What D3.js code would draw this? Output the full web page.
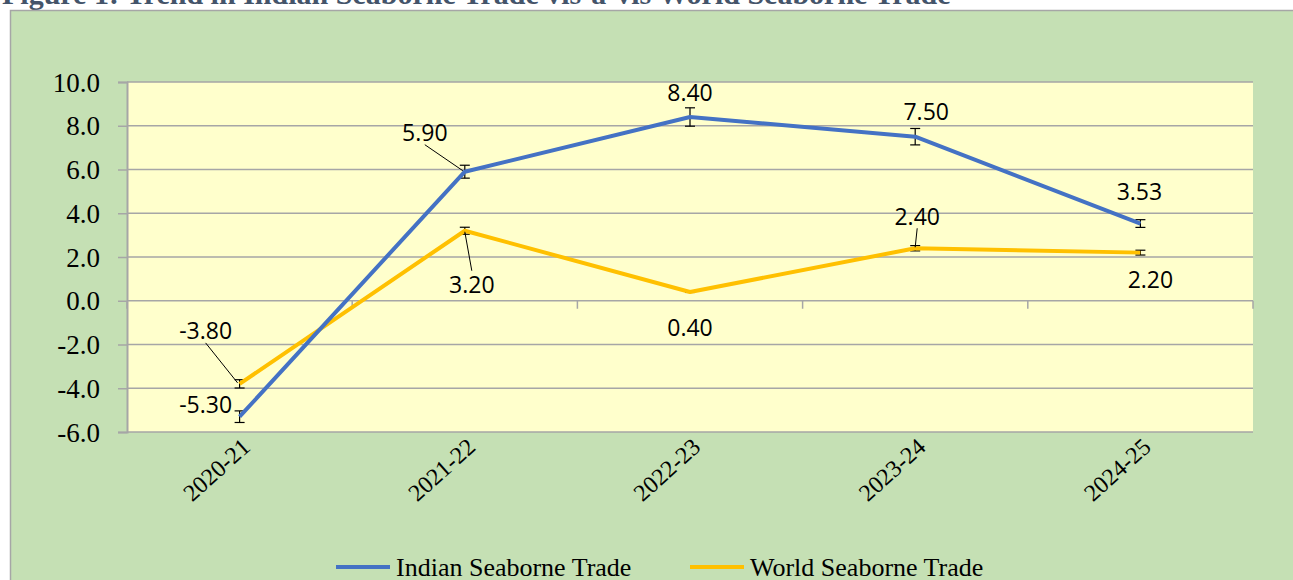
<!DOCTYPE html>
<html>
<head>
<meta charset="utf-8">
<script src="https://cdn.jsdelivr.net/npm/d3@7"></script>
<style>
  html, body { margin: 0; padding: 0; background: #ffffff; overflow: hidden; }
  #chart { width: 1293px; height: 580px; }
</style>
</head>
<body>
<div id="chart"></div>
<script>
const years = ["2020-21", "2021-22", "2022-23", "2023-24", "2024-25"];
const indianTrade = [-5.30, 5.90, 8.40, 7.50, 3.53];
const worldTrade = [-3.80, 3.20, 0.40, 2.40, 2.20];
const yTicks = [-6, -4, -2, 0, 2, 4, 6, 8, 10];
const seriesNames = ["Indian Seaborne Trade", "World Seaborne Trade"];
const seriesColors = ["#4472C4", "#FFC000"];

// label offsets (px) from each point, and which ones get a leader line
const indianLabelOffsets = [[-34, -12], [-40, -39], [0, -24], [11, -25], [-1, -32]];
const worldLabelOffsets = [[-34, -53], [7, 54], [0, 36], [2, -32], [10, 27]];
const indianLeaders = [false, true, false, false, false];
const worldLeaders = [true, true, false, true, false];

const SERIF = "'Liberation Serif', 'Times New Roman', serif";
const SANS = "'Open Sans', 'Noto Sans', sans-serif";

function renderTradeChart(selector) {
    d3.select(selector).html("");

    const W = 1293, H = 580;
    const margin = {top: 82, right: 40, bottom: 148, left: 127};
    const width = W - margin.left - margin.right;
    const height = H - margin.top - margin.bottom;

    const root = d3.select(selector).append("svg")
        .attr("width", W)
        .attr("height", H);

    // title (cut off at top of the page)
    root.append("text")
        .attr("x", 2)
        .attr("y", 4)
        .attr("font-family", SERIF)
        .attr("font-size", 30)
        .attr("font-weight", "bold")
        .attr("fill", "#44546A")
        .text("Figure 1: Trend in Indian Seaborne Trade vis-a-vis World Seaborne Trade");

    // green chart area
    root.append("rect")
        .attr("x", 10.5)
        .attr("y", 10.5)
        .attr("width", W)
        .attr("height", H)
        .attr("fill", "#C5E0B4")
        .attr("stroke", "#A6A6A6")
        .attr("stroke-width", 1.5);

    const svg = root.append("g")
        .attr("transform", `translate(${margin.left}, ${margin.top})`);

    const x = d3.scaleBand()
        .domain(years)
        .range([0, width])
        .padding(0);

    const y = d3.scaleLinear()
        .domain([-6, 10])
        .range([height, 0]);

    const cx = d => x(d) + x.bandwidth() / 2;

    // plot area
    svg.append("rect")
        .attr("x", 0)
        .attr("y", 0)
        .attr("width", width)
        .attr("height", height)
        .attr("fill", "#FFFFCC");

    // y axis
    const yAxis = svg.append("g")
        .call(d3.axisLeft(y).tickValues(yTicks).tickSize(9).tickPadding(18).tickFormat(d => d.toFixed(1)));
    yAxis.attr("font-family", SERIF).attr("font-size", 27);
    yAxis.select(".domain").attr("stroke", "#A6A6A6").attr("stroke-width", 2);
    yAxis.selectAll(".tick line").attr("stroke", "#A6A6A6").attr("stroke-width", 1.5);
    yAxis.selectAll(".tick text").attr("fill", "#000").attr("dy", "0.34em");

    // gridlines
    svg.append("g")
        .selectAll("line")
        .data(yTicks)
        .enter()
        .append("line")
        .attr("x1", 0)
        .attr("x2", width)
        .attr("y1", d => y(d))
        .attr("y2", d => y(d))
        .attr("stroke", "#A6A6A6")
        .attr("stroke-width", 1.5);

    // category axis at zero, ticks on band boundaries
    const bounds = years.map(d => x(d)).concat([width]);
    svg.append("g")
        .selectAll("line")
        .data(bounds)
        .enter()
        .append("line")
        .attr("x1", d => d)
        .attr("x2", d => d)
        .attr("y1", y(0))
        .attr("y2", y(0) + 8)
        .attr("stroke", "#A6A6A6")
        .attr("stroke-width", 1.5);

    // rotated category labels below plot
    svg.append("g")
        .selectAll("text")
        .data(years)
        .enter()
        .append("text")
        .attr("font-family", SERIF)
        .attr("font-size", 24)
        .attr("fill", "#000")
        .attr("text-anchor", "end")
        .attr("transform", d => `translate(${cx(d) + 12}, ${height + 17}) rotate(-42)`)
        .text(d => d);

    const line = d3.line()
        .x(d => cx(d.year))
        .y(d => y(d.value));

    const series = [
        {name: seriesNames[0], color: seriesColors[0], values: indianTrade, offsets: indianLabelOffsets, leaders: indianLeaders},
        {name: seriesNames[1], color: seriesColors[1], values: worldTrade, offsets: worldLabelOffsets, leaders: worldLeaders}
    ];

    // 5% error bars (drawn under the lines)
    series.forEach(s => {
        const eb = svg.append("g").attr("stroke", "#000").attr("stroke-width", 1.2);
        years.forEach((yr, i) => {
            const v = s.values[i];
            const e = Math.abs(v) * 0.05;
            const px = cx(yr);
            const y1 = y(v + e), y2 = y(v - e);
            eb.append("line").attr("x1", px).attr("x2", px).attr("y1", y1).attr("y2", y2);
            eb.append("line").attr("x1", px - 5).attr("x2", px + 5).attr("y1", y1).attr("y2", y1);
            eb.append("line").attr("x1", px - 5).attr("x2", px + 5).attr("y1", y2).attr("y2", y2);
        });
    });

    // draw world first so indian sits on top
    series.slice().reverse().forEach(s => {
        const pts = years.map((yr, i) => ({year: yr, value: s.values[i]}));
        svg.append("path")
            .datum(pts)
            .attr("fill", "none")
            .attr("stroke", s.color)
            .attr("stroke-width", 4)
            .attr("stroke-linejoin", "round")
            .attr("d", line);
    });

    // data labels with leader lines
    series.forEach(s => {
        years.forEach((yr, i) => {
            const px = cx(yr), py = y(s.values[i]);
            const [dx, dy] = s.offsets[i];
            const lx = px + dx, ly = py + dy;
            if (s.leaders[i]) {
                svg.append("line")
                    .attr("x1", lx)
                    .attr("y1", ly + (dy < 0 ? 12 : -14))
                    .attr("x2", px - (dx < -5 ? 2 : 0))
                    .attr("y2", py + (dy < 0 ? -1 : 1))
                    .attr("stroke", "#000")
                    .attr("stroke-width", 1);
            }
            svg.append("text")
                .attr("font-family", SANS)
                .attr("font-size", 23)
                .attr("fill", "#000")
                .attr("x", lx)
                .attr("y", ly)
                .attr("dy", "0.36em")
                .attr("text-anchor", "middle")
                .text(s.values[i].toFixed(2));
        });
    });

    // legend
    const legend = root.append("g")
        .attr("transform", "translate(336, 567)");
    const legendX = [0, 354];
    series.forEach((s, i) => {
        const g = legend.append("g").attr("transform", `translate(${legendX[i]}, 0)`);
        g.append("line")
            .attr("x1", 0).attr("x2", 54)
            .attr("y1", 0).attr("y2", 0)
            .attr("stroke", s.color)
            .attr("stroke-width", 4);
        g.append("text")
            .attr("font-family", SERIF)
            .attr("font-size", 26)
            .attr("fill", "#000")
            .attr("x", 60)
            .attr("y", 9)
            .text(s.name);
    });
}

renderTradeChart("#chart");
</script>
</body>
</html>
